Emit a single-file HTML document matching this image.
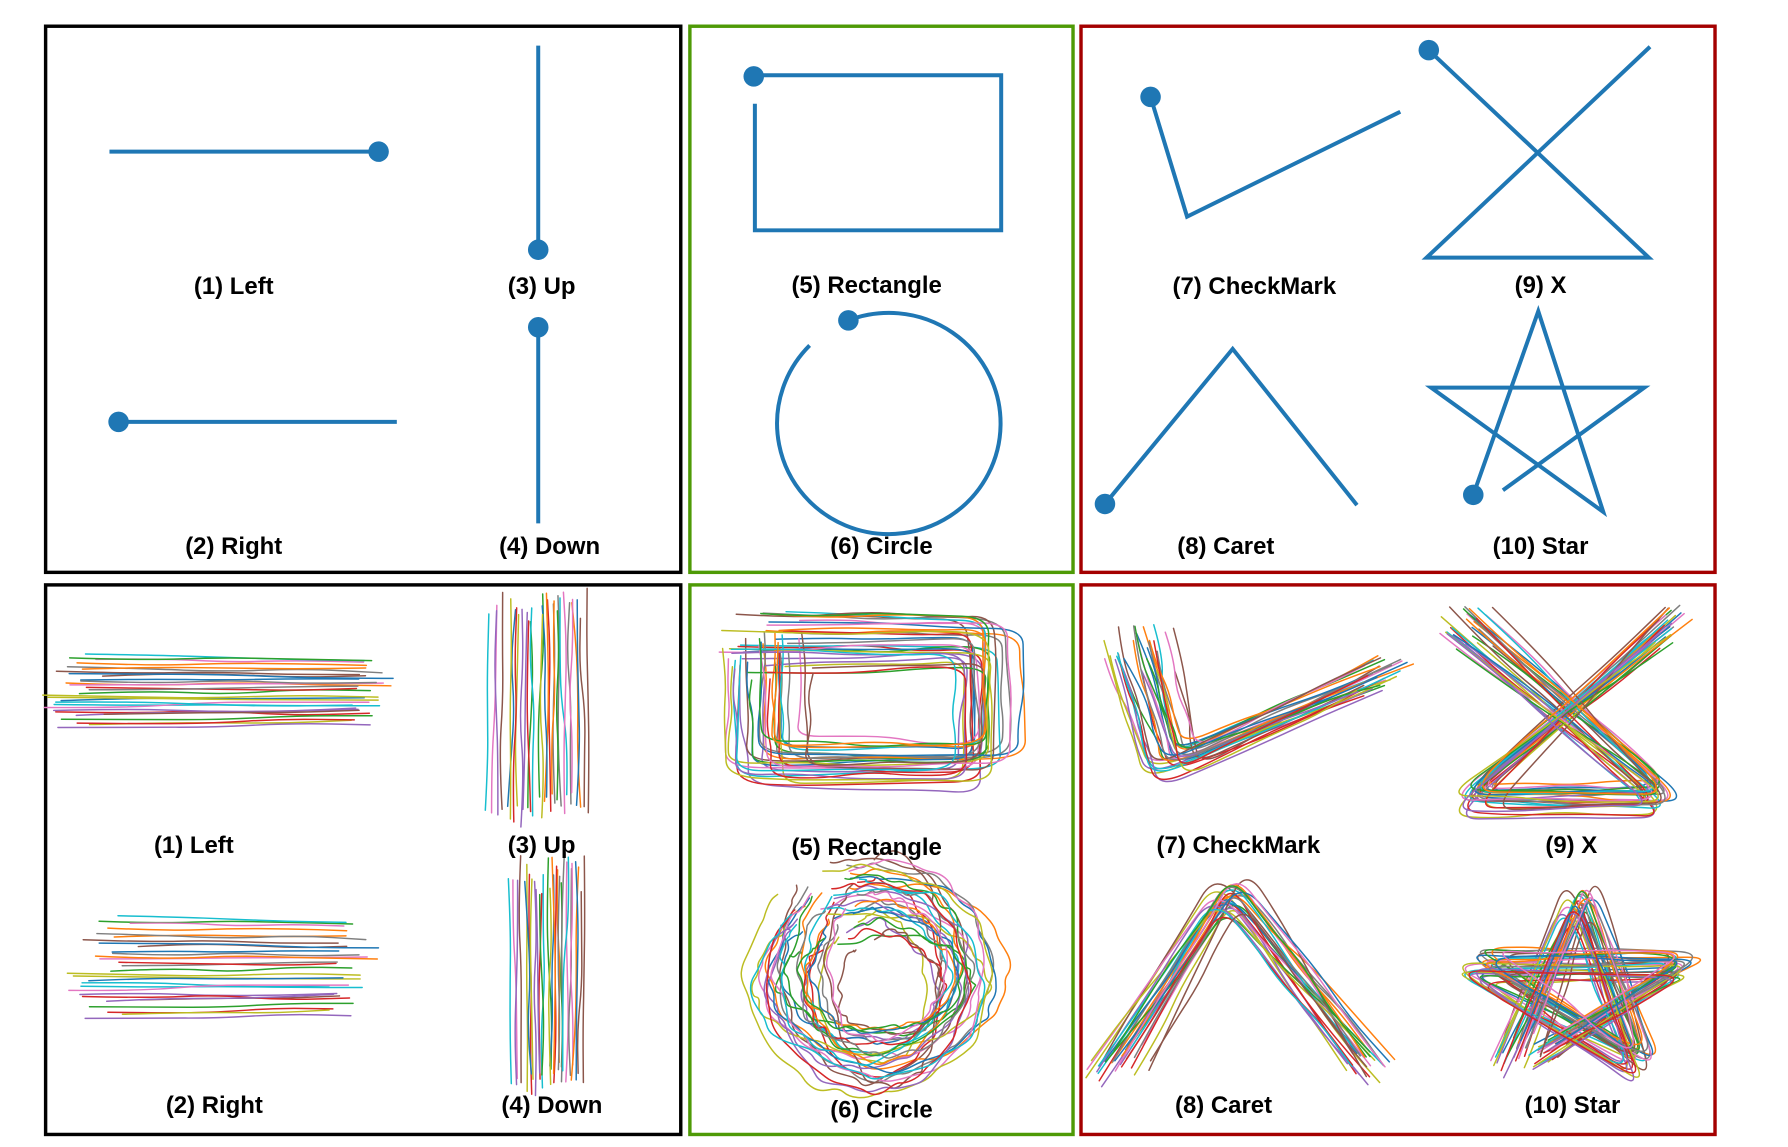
<!DOCTYPE html>
<html><head><meta charset="utf-8"><style>
html,body{margin:0;padding:0;background:#fff;}
svg{display:block;}
text{font-family:"Liberation Sans",sans-serif;font-weight:bold;font-size:21px;fill:#000;text-anchor:middle;}
</style></head><body>
<svg id="fig" width="1788" height="1147" viewBox="0 0 1568 1006" preserveAspectRatio="none" xmlns="http://www.w3.org/2000/svg">
<g fill="none" stroke-width="3">
<rect x="40" y="23" width="557" height="479" stroke="#000"/>
<rect x="605" y="23" width="336" height="479" stroke="#4e9a06"/>
<rect x="948" y="23" width="556" height="479" stroke="#a40000"/>
<rect x="40" y="513" width="557" height="482" stroke="#000"/>
<rect x="605" y="513" width="336" height="482" stroke="#4e9a06"/>
<rect x="948" y="513" width="556" height="482" stroke="#a40000"/>
</g>
<g fill="none" stroke="#1f77b4" stroke-width="3.5">
<line x1="96" y1="133" x2="332" y2="133"/>
<circle cx="332" cy="133" r="9" fill="#1f77b4" stroke="none"/>
<line x1="472" y1="40" x2="472" y2="219"/>
<circle cx="472" cy="219" r="9" fill="#1f77b4" stroke="none"/>
<line x1="104" y1="370" x2="348" y2="370"/>
<circle cx="104" cy="370" r="9" fill="#1f77b4" stroke="none"/>
<line x1="472" y1="287" x2="472" y2="459"/>
<circle cx="472" cy="287" r="9" fill="#1f77b4" stroke="none"/>
<polyline points="661,66 878,66 878,202 662,202 662,91"/>
<circle cx="661" cy="67" r="9" fill="#1f77b4" stroke="none"/>
<path d="M744,281 A98,97 0 1 1 710,303"/>
<circle cx="744" cy="281" r="9" fill="#1f77b4" stroke="none"/>
<polyline points="1009,85 1041,190 1228,98"/>
<circle cx="1009" cy="85" r="9" fill="#1f77b4" stroke="none"/>
<polyline points="1253,44 1446,226 1251,226 1447,41"/>
<circle cx="1253" cy="44" r="9" fill="#1f77b4" stroke="none"/>
<polyline points="969,442 1081,306 1190,443"/>
<circle cx="969" cy="442" r="9" fill="#1f77b4" stroke="none"/>
<polyline points="1292,434 1349,273 1406,449 1255,340 1442,340 1318,430"/>
<circle cx="1292" cy="434" r="9" fill="#1f77b4" stroke="none"/>
</g>
<g id="samples" fill="none" stroke-width="1.3" stroke-linejoin="round" stroke-linecap="round"></g>
<g>
<text x="205" y="258">(1) Left</text>
<text x="475" y="258">(3) Up</text>
<text x="760" y="257">(5) Rectangle</text>
<text x="1100" y="258">(7) CheckMark</text>
<text x="1351" y="257">(9) X</text>
<text x="205" y="486">(2) Right</text>
<text x="482" y="486">(4) Down</text>
<text x="773" y="486">(6) Circle</text>
<text x="1075" y="486">(8) Caret</text>
<text x="1351" y="486">(10) Star</text>
<text x="170" y="748">(1) Left</text>
<text x="475" y="748">(3) Up</text>
<text x="760" y="750">(5) Rectangle</text>
<text x="1086" y="748">(7) CheckMark</text>
<text x="1378" y="748">(9) X</text>
<text x="188" y="976">(2) Right</text>
<text x="484" y="976">(4) Down</text>
<text x="773" y="980">(6) Circle</text>
<text x="1073" y="976">(8) Caret</text>
<text x="1379" y="976">(10) Star</text>
</g>
</svg>
<script>
const palette = ["#1f77b4","#ff7f0e","#2ca02c","#d62728","#9467bd","#8c564b","#e377c2","#7f7f7f","#bcbd22","#17becf"];
const strokeDx = [0.12,-0.35,0.48,-0.08,0.27,-0.52,0.05,0.61,-0.22,0.33,-0.44,0.18,-0.67,0.41,-0.15,0.72,-0.3,0.09,-0.58,0.24,0.55,-0.11,0.38,-0.76,0.02,0.66,-0.4,0.2,-0.25,0.47];
const strokeDy = [-0.2,0.45,-0.62,0.3,0.08,-0.38,0.71,-0.14,0.52,-0.47,0.22,-0.05,0.36,-0.73,0.6,-0.28,0.15,-0.55,0.42,0.0,-0.33,0.68,-0.1,0.25,-0.65,0.5,0.11,-0.42,0.77,-0.18];
const strokeScale = [0.95,1.05,0.9,1.1,0.98,1.02,0.88,1.12,0.93,1.07,1.0,0.92,1.08,0.96,1.04,0.89,1.11,0.97,1.03,0.91,1.09,0.94,1.06,0.99,1.01,0.87,1.13,0.95,1.05,1.0];
const gestureNames = ["left","up","right","down","rectangle","circle","checkmark","x","caret","star"];
const gestureTemplates = [
 [[0,0.5],[1,0.5]],
 [[0.5,1],[0.5,0]],
 [[0,0.5],[1,0.5]],
 [[0.5,0],[0.5,1]],
 [[0,0],[1,0],[1,1],[0,1],[0,0.12]],
 [[0.33,0.04],[0.5,0],[0.75,0.07],[0.93,0.25],[1,0.5],[0.93,0.75],[0.75,0.93],[0.5,1],[0.25,0.93],[0.07,0.75],[0,0.5],[0.07,0.25],[0.15,0.14]],
 [[0.05,0.05],[0.18,0.95],[1,0.25]],
 [[0,0],[1,1],[0,1],[1,0]],
 [[0,1],[0.45,0],[1,1]],
 [[0.2,0.92],[0.5,0],[0.8,1],[0,0.4],[1,0.4],[0.35,0.9]]
];
// box: x0,y0,x1,y1
const gestureBoxes = [[62,578,322,632],[432,530,512,708],[88,812,305,882],[447,765,513,945],[668,560,862,668],[690,782,846,930],[985,562,1210,676],[1284,548,1462,700],[978,778,1198,932],[1290,785,1478,935]];
// jitter px x, y ; scale amplification ; wobble px
const gestureJitter = [[14,38,0.5,5],[55,10,0.4,6],[18,55,0.7,5],[40,12,0.4,5],[30,24,0.8,7],[14,12,1.6,8],[16,18,0.7,8],[14,12,0.5,7],[14,12,0.6,7],[14,14,0.6,8]];
const ns = "http://www.w3.org/2000/svg";
const g = document.getElementById("samples");
const N = 30;
gestureTemplates.forEach((tpl, gi) => {
 const b = gestureBoxes[gi], j = gestureJitter[gi];
 const cx = (b[0]+b[2])/2, cy = (b[1]+b[3])/2, w = b[2]-b[0], h = b[3]-b[1];
 for (let i = 0; i < N; i++) {
  const k = (i + gi*7) % N;
  const s = 1 + (strokeScale[k]-1)*j[2]*2;
  const s2 = 1 + (strokeScale[(k+11)%N]-1)*j[2]*2;
  const pts = [];
  for (let p = 0; p < tpl.length; p++) {
   const wi = (k + p*5) % N;
   let x = cx + (tpl[p][0]-0.5)*w*s + strokeDx[k]*j[0] + strokeDx[wi]*j[3];
   let y = cy + (tpl[p][1]-0.5)*h*s2 + strokeDy[k]*j[1] + strokeDy[wi]*j[3];
   if (p > 0) {
    const prev = pts[pts.length-1];
    for (let q = 1; q < 4; q++) {
     const t = q/4, mi = (wi+q*3)%N;
     pts.push([prev[0]+(x-prev[0])*t+strokeDy[mi]*j[3]*0.6, prev[1]+(y-prev[1])*t+strokeDx[mi]*j[3]*0.6]);
    }
   }
   pts.push([x,y]);
  }
  let d = "M" + pts[0][0].toFixed(1) + "," + pts[0][1].toFixed(1);
  for (let p = 1; p < pts.length-1; p++) {
   const mx = (pts[p][0]+pts[p+1][0])/2, my = (pts[p][1]+pts[p+1][1])/2;
   d += " Q" + pts[p][0].toFixed(1) + "," + pts[p][1].toFixed(1) + " " + mx.toFixed(1) + "," + my.toFixed(1);
  }
  const last = pts[pts.length-1];
  d += " L" + last[0].toFixed(1) + "," + last[1].toFixed(1);
  const el = document.createElementNS(ns, "path");
  el.setAttribute("d", d);
  el.setAttribute("stroke", palette[(i*3+gi) % 10]);
  
  
  g.appendChild(el);
 }
});
</script>
</body></html>
